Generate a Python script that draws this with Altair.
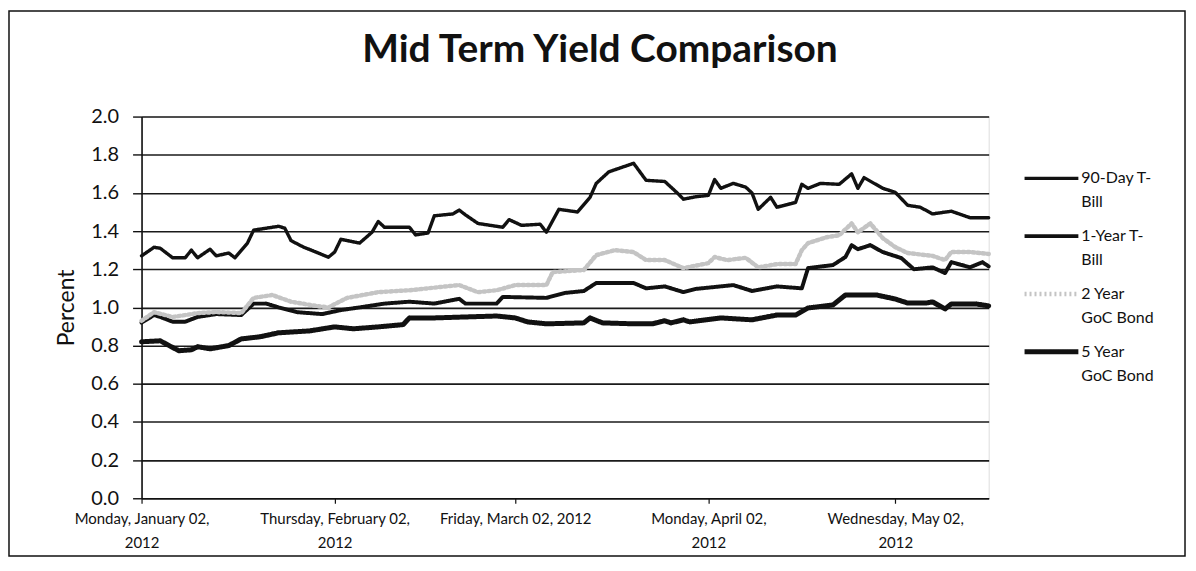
import altair as alt
import pandas as pd

TITLE = "Mid Term Yield Comparison"
START = "2012-01-02"
SERIES = ["90-Day T-Bill", "1-Year T-Bill", "2 Year GoC Bond", "5 Year GoC Bond"]
LEGEND_LINES = [["90-Day T-", "Bill"], ["1-Year  T-", "Bill"], ["2 Year", "GoC Bond"], ["5 Year", "GoC Bond"]]
Y_TICKS = [0.0, 0.2, 0.4, 0.6, 0.8, 1.0, 1.2, 1.4, 1.6, 1.8, 2.0]
X_TICK_MONTHS = [1, 2, 3, 4, 5]

# day offsets from START and yields (percent)
D90 = [0, 2, 3, 5, 7, 8, 9, 11, 12, 14, 15, 17, 18, 22, 23, 24, 26, 28, 30, 31,
       32, 35, 37, 38, 39, 43, 44, 46, 47, 50, 51, 52, 54, 57, 58, 59, 61, 64, 65, 67,
       70, 72, 73, 75, 79, 81, 84, 86, 87, 89, 91, 92, 93, 95, 97, 98, 99, 101, 102, 105,
       106, 107, 109, 112, 114, 115, 116, 119, 121, 123, 125, 127, 130, 133, 136]
V90 = [1.27, 1.315, 1.31, 1.26, 1.26, 1.30, 1.26, 1.305, 1.27, 1.285, 1.26, 1.337, 1.405, 1.425, 1.415, 1.35, 1.316, 1.29, 1.263, 1.29,
       1.357, 1.337, 1.394, 1.45, 1.42, 1.42, 1.38, 1.39, 1.48, 1.49, 1.51, 1.485, 1.44, 1.425, 1.42, 1.46, 1.43, 1.436, 1.394, 1.514,
       1.50, 1.577, 1.65, 1.71, 1.755, 1.666, 1.66, 1.60, 1.567, 1.58, 1.587, 1.67, 1.624, 1.65, 1.63, 1.60, 1.514, 1.577, 1.525, 1.55,
       1.645, 1.624, 1.65, 1.645, 1.70, 1.624, 1.68, 1.624, 1.603, 1.535, 1.525, 1.49, 1.504, 1.47, 1.47]

D1Y = [0, 2, 3, 5, 7, 9, 12, 16, 18, 20, 22, 25, 29, 32, 35, 39, 43, 47, 51, 52,
       57, 58, 65, 68, 71, 73, 79, 81, 84, 87, 89, 95, 98, 102, 106, 107, 111, 113, 114, 115,
       117, 119, 122, 124, 127, 129, 130, 133, 135, 136]
V1Y = [0.92, 0.96, 0.95, 0.925, 0.925, 0.95, 0.965, 0.96, 1.02, 1.02, 1.0, 0.975, 0.965, 0.986, 1.0, 1.02, 1.03, 1.02, 1.045, 1.02,
       1.02, 1.055, 1.05, 1.076, 1.086, 1.128, 1.128, 1.10, 1.11, 1.08, 1.097, 1.117, 1.086, 1.11, 1.10, 1.206, 1.222, 1.264, 1.326, 1.305,
       1.326, 1.29, 1.258, 1.20, 1.21, 1.18, 1.237, 1.21, 1.237, 1.215]

D2Y = [0, 2, 5, 9, 12, 16, 18, 21, 24, 28, 30, 33, 38, 43, 48, 51, 54, 57, 60, 65,
       66, 71, 73, 76, 79, 81, 84, 87, 91, 92, 94, 97, 99, 102, 105, 106, 107, 110, 112, 114,
       115, 117, 119, 121, 123, 127, 129, 130, 133, 136]
V2Y = [0.93, 0.975, 0.95, 0.97, 0.976, 0.97, 1.05, 1.065, 1.03, 1.008, 1.0, 1.05, 1.08, 1.09, 1.107, 1.117, 1.08, 1.09, 1.117, 1.117,
       1.185, 1.196, 1.274, 1.30, 1.29, 1.248, 1.248, 1.206, 1.232, 1.264, 1.248, 1.26, 1.21, 1.227, 1.227, 1.30, 1.337, 1.368, 1.378, 1.44,
       1.394, 1.44, 1.363, 1.316, 1.285, 1.27, 1.248, 1.29, 1.29, 1.28]

D5Y = [0, 3, 5, 6, 8, 9, 11, 14, 16, 19, 22, 27, 31, 34, 38, 42, 43, 47, 52, 57,
       60, 62, 65, 71, 72, 74, 79, 82, 84, 85, 87, 88, 93, 98, 102, 105, 107, 111, 113, 118,
       121, 123, 126, 127, 129, 130, 134, 136]
V5Y = [0.82, 0.825, 0.79, 0.773, 0.778, 0.794, 0.783, 0.80, 0.835, 0.846, 0.867, 0.877, 0.898, 0.888, 0.898, 0.91, 0.945, 0.945, 0.95, 0.955,
       0.945, 0.924, 0.914, 0.919, 0.945, 0.919, 0.914, 0.914, 0.93, 0.919, 0.935, 0.924, 0.945, 0.935, 0.96, 0.96, 0.997, 1.013, 1.065, 1.065,
       1.044, 1.023, 1.023, 1.029, 0.992, 1.018, 1.018, 1.008]

FONT = "Lato"
COLORS = ["#111111", "#111111", "#c4c4c4", "#111111"]
DASHES = [[1, 0], [1, 0], [2, 3], [1, 0]]
WIDTHS = [3.4, 5, 1.3, 4.6]

start = pd.Timestamp(START)
frames = []
for name, days, vals in zip(SERIES, [D90, D1Y, D2Y, D5Y], [V90, V1Y, V2Y, V5Y]):
    frames.append(pd.DataFrame({
        "date": [start + pd.Timedelta(days=d) for d in days],
        "value": vals,
        "series": name,
    }))
df = pd.concat(frames, ignore_index=True)
order_map = {SERIES[2]: 0, SERIES[0]: 1, SERIES[1]: 2, SERIES[3]: 3}
df["ord"] = df["series"].map(order_map)

color = alt.Color("series:N", scale=alt.Scale(domain=SERIES, range=COLORS), legend=None)
dash = alt.StrokeDash("series:N", scale=alt.Scale(domain=SERIES, range=DASHES), legend=None)
width = alt.StrokeWidth("series:N", scale=alt.Scale(domain=SERIES, range=WIDTHS), legend=None)

W, H = 850, 383

lines = alt.Chart(df).mark_line(strokeCap="round", strokeJoin="round").encode(
    x=alt.X("date:T", scale=alt.Scale(nice=False),
            axis=alt.Axis(
                title=None,
                values=[alt.DateTime(year=2012, month=m, date=2) for m in X_TICK_MONTHS],
                labelExpr="month(datum.value) == 2 ? timeFormat(datum.value, '%A, %B %d, %Y') : "
                          "[timeFormat(datum.value, '%A, %B %d,'), timeFormat(datum.value, '%Y')]",
                labelFont=FONT, labelFontSize=15, labelColor="#111", labelLineHeight=24,
                labelPadding=8, labelOverlap=False, labelFlush=False, labelBound=False,
                tickSize=5, tickColor="#111", tickWidth=1.2,
                domain=True, domainColor="#111", domainWidth=1.6,
                grid=False)),
    y=alt.Y("value:Q", scale=alt.Scale(domain=[0, 2], nice=False, zero=True),
            axis=alt.Axis(
                title="Percent", titleFont=FONT, titleFontSize=23, titleFontWeight="normal",
                titleColor="#111", titlePadding=12,
                values=Y_TICKS, format=".1f",
                labelFont=FONT, labelFontSize=20, labelColor="#111", labelPadding=14,
                tickSize=9, tickColor="#111", tickWidth=1.4,
                domain=True, domainColor="#111", domainWidth=1.6,
                grid=True, gridColor="#1a1a1a", gridWidth=1.6)),
    color=color,
    strokeDash=dash,
    strokeWidth=width,
    detail="series:N",
    order=alt.Order("ord:Q"),
)

leg_rows = []
text_rows = []
for i, (name, lab) in enumerate(zip(SERIES, LEGEND_LINES)):
    y0 = 62 + i * 58
    leg_rows.append({"series": name, "x0": 886, "x1": 940, "y": y0})
    for j, t in enumerate(lab):
        text_rows.append({"t": t, "x": 943, "y": y0 + j * 24})
leg_df = pd.DataFrame(leg_rows)
txt_df = pd.DataFrame(text_rows)

legend_lines = alt.Chart(leg_df).mark_rule().encode(
    x=alt.X("x0:Q", scale=None), x2="x1:Q",
    y=alt.Y("y:Q", scale=None),
    color=color, strokeDash=dash, strokeWidth=width,
)
legend_text = alt.Chart(txt_df).mark_text(
    align="left", baseline="middle", font=FONT, fontSize=16, color="#111"
).encode(
    x=alt.X("x:Q", scale=None), y=alt.Y("y:Q", scale=None), text="t:N"
)

title = alt.Chart(pd.DataFrame({"t": [TITLE]})).mark_text(
    align="center", baseline="alphabetic", font=FONT, fontSize=39, fontWeight="bold", color="#111"
).encode(
    x=alt.value(460), y=alt.value(-55), text="t:N"
)

frame = alt.Chart(pd.DataFrame({"a": [0]})).mark_rect(
    fill="transparent", stroke="#111", strokeWidth=1.5
).encode(
    x=alt.value(-133), x2=alt.value(1047), y=alt.value(-106), y2=alt.value(H + 58)
)

chart = alt.layer(lines, legend_lines, legend_text, title, frame).properties(
    width=W, height=H,
    padding={"left": 134, "top": 108, "right": 200, "bottom": 61},
    autosize=alt.AutoSizeParams(type="none"),
).configure_view(strokeWidth=0).configure(background="white")

chart.save("out.html", embed_options={"renderer": "svg", "actions": False})
